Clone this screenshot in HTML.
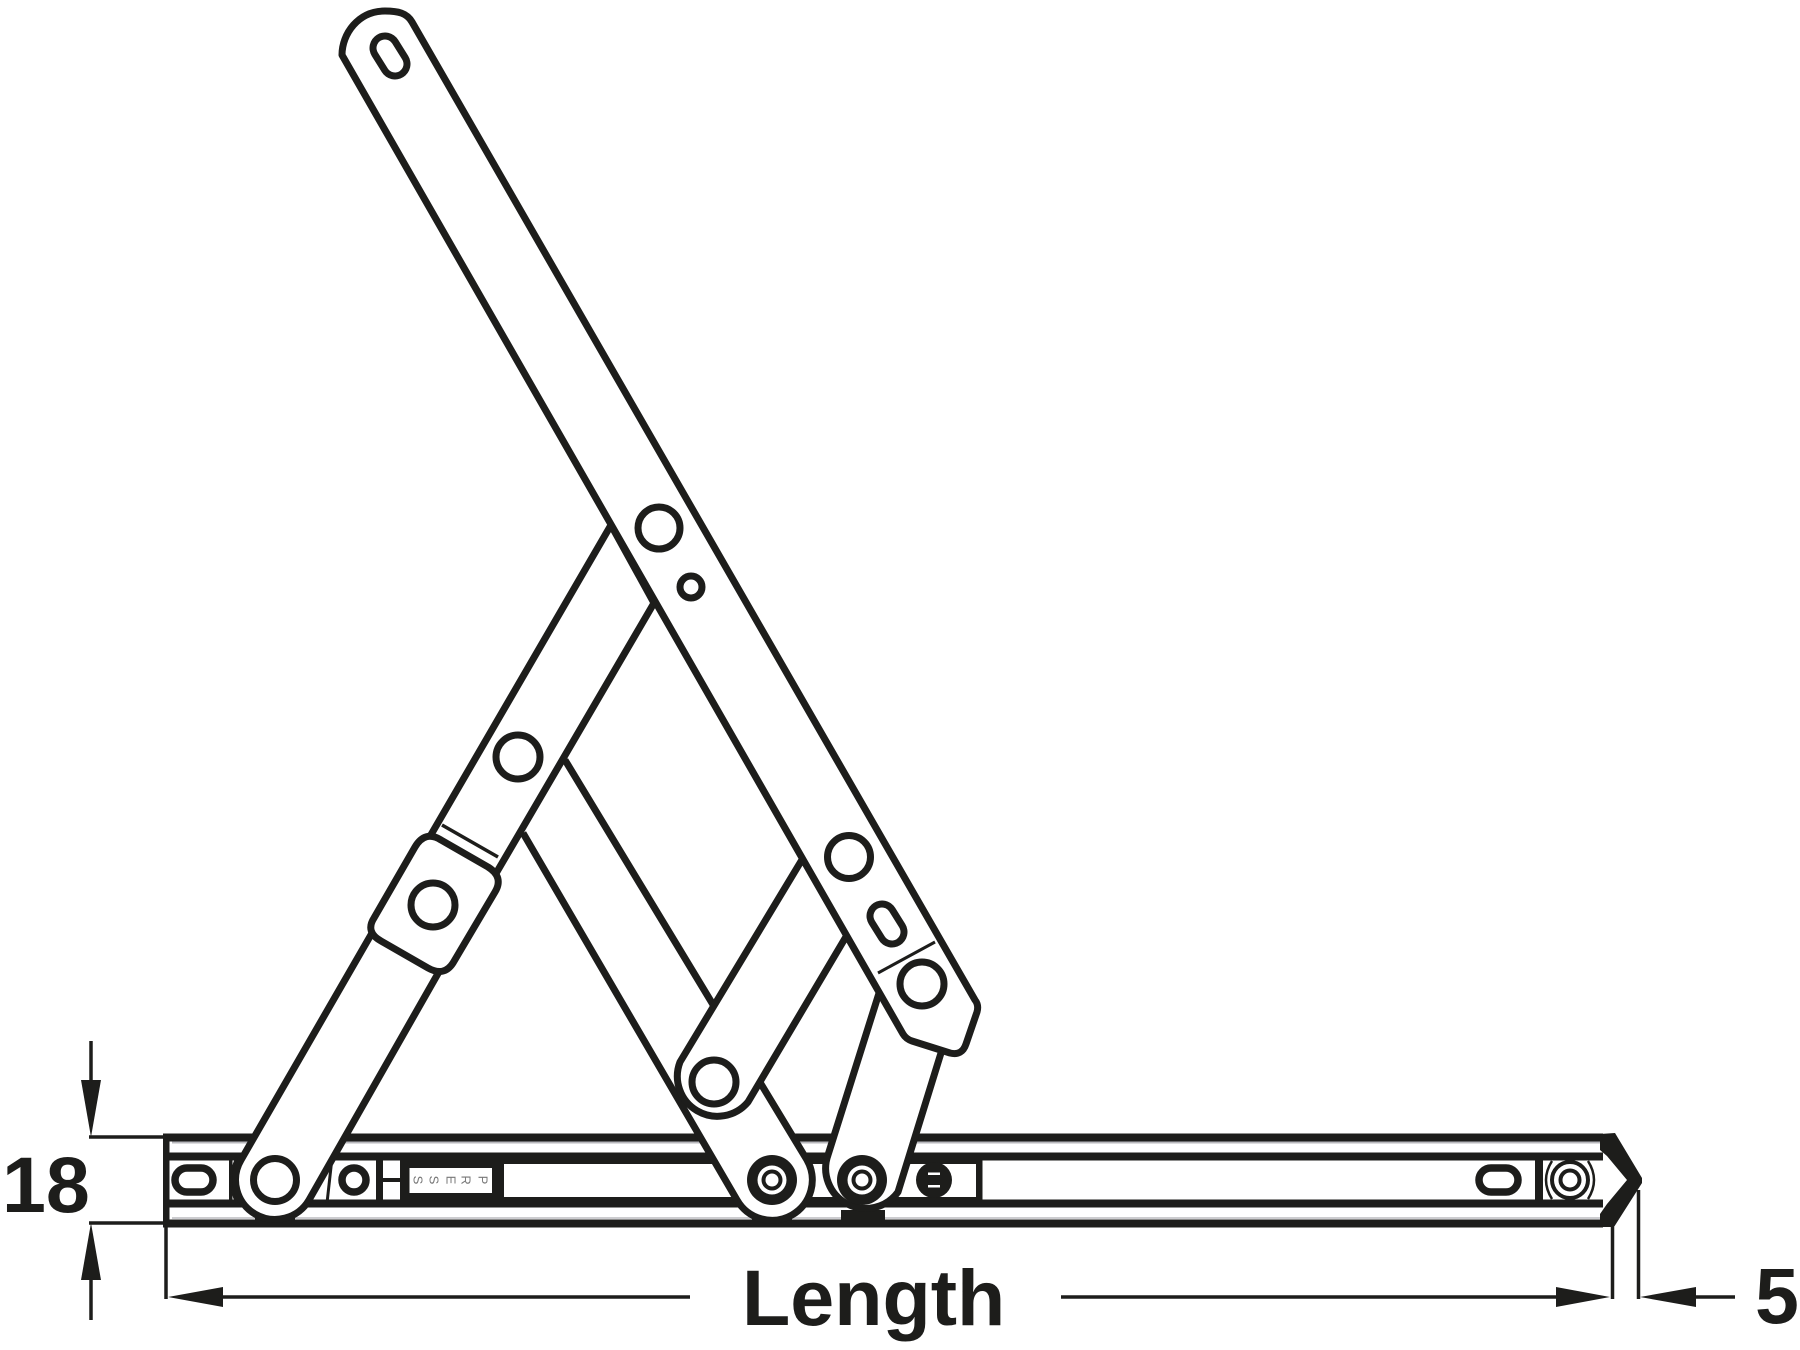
<!DOCTYPE html>
<html><head><meta charset="utf-8"><style>
html,body{margin:0;padding:0;background:#fff}
svg{display:block}
text{font-family:"Liberation Sans",sans-serif;font-weight:bold;fill:#1d1d1b}
</style></head><body>
<svg xmlns="http://www.w3.org/2000/svg" width="1800" height="1350" viewBox="0 0 1800 1350">
<rect width="1800" height="1350" fill="#fff"/>
<g fill="#1d1d1b" stroke="none">
<!-- rail -->
<rect x="172" y="1141.500" width="1430" height="2" fill="#b8b8bc"/>
<rect x="172" y="1217" width="1430" height="2" fill="#cccccf"/>
<rect x="163" y="1133.500" width="1440" height="8"/>
<rect x="163" y="1152.500" width="1440" height="8"/>
<rect x="163" y="1199.500" width="1440" height="8"/>
<rect x="163" y="1219.500" width="1440" height="8"/>
<rect x="163" y="1133.500" width="6.500" height="94"/>
<rect x="400" y="1153" width="104" height="54"/>
<rect x="504" y="1153" width="475" height="11"/>
<rect x="504" y="1197" width="475" height="10"/>
<rect x="229" y="1160" width="3.500" height="40"/>
<rect x="376" y="1153" width="7" height="54"/>
<rect x="382" y="1178" width="18" height="4"/>
<rect x="976" y="1153" width="6.500" height="54"/>
<rect x="1535" y="1153" width="8" height="54"/>
</g>
<rect x="409.500" y="1168" width="82.500" height="25" fill="#fff"/>
<g font-size="13">
<text transform="translate(417,1180) rotate(90)" text-anchor="middle" dominant-baseline="middle" style="font-weight:normal;fill:#777">S</text>
<text transform="translate(433,1180) rotate(90)" text-anchor="middle" dominant-baseline="middle" style="font-weight:normal;fill:#777">S</text>
<text transform="translate(450,1180) rotate(90)" text-anchor="middle" dominant-baseline="middle" style="font-weight:normal;fill:#777">E</text>
<text transform="translate(465,1180) rotate(90)" text-anchor="middle" dominant-baseline="middle" style="font-weight:normal;fill:#777">R</text>
<text transform="translate(482,1180) rotate(90)" text-anchor="middle" dominant-baseline="middle" style="font-weight:normal;fill:#777">P</text>
</g>
<g fill="none" stroke="#1d1d1b" stroke-width="7" stroke-linejoin="round">
<!-- rail details -->
<rect x="175" y="1168" width="38" height="24" rx="12" stroke-width="7.500"/>
<circle cx="354" cy="1180" r="12" stroke-width="7.500"/>
<path d="M237,1158 Q227,1180 237,1203" stroke-width="3.500"/>
<path d="M332,1158 L327,1203" stroke-width="3"/>
<rect x="1479" y="1168" width="39" height="24" rx="12" stroke-width="7.500"/>
<path d="M1552,1161 Q1540,1180 1552,1199" stroke-width="2.500"/>
<path d="M1588,1161 Q1600,1180 1588,1199" stroke-width="2.500"/>
<circle cx="1570" cy="1180" r="18" stroke-width="4"/>
<circle cx="1570" cy="1180" r="9.500" stroke-width="4"/>
</g>
<polygon fill="#1d1d1b" points="1600,1134 1615,1133 1642,1178 1642,1183 1614,1227 1600,1227 1600,1214 1607,1204 1627,1180 1607,1156 1600,1150"/>
<circle cx="934" cy="1180" r="18" fill="#1d1d1b"/>
<rect x="928" y="1172.500" width="12" height="2.500" fill="#fff"/>
<rect x="928" y="1185" width="12" height="2.500" fill="#fff"/>
<rect x="841" y="1210" width="44" height="12" fill="#1d1d1b"/>
<rect x="255" y="1214" width="40" height="8" fill="#1d1d1b"/>
<rect x="752" y="1214" width="40" height="8" fill="#1d1d1b"/>
<g fill="#fff" stroke="#1d1d1b" stroke-width="7" stroke-linejoin="round">
<!-- middle link -->
<path d="M523,833 L737,1200 A40,40 0 0 0 807,1160 L565,760 Z" stroke="none"/>
<path d="M523,833 L737,1200 A40,40 0 0 0 807,1160 L565,760" fill="none"/>
<!-- left arm upper/lower -->
<path d="M611,525 L432,833 L372,933 L241,1160 A39,39 0 0 0 309,1200 L440,970 L498,870 L654,603 Z"/>
<path d="M442,825 L498,857" stroke-width="3.500" fill="none"/>
<path d="M374,918 L415,847 Q425,830 441,840 L488,867 Q504,877 495,892 L453,963 Q444,977 428,968 L381,941 Q365,932 374,918 Z"/>
<!-- short arm -->
<path d="M803,858 L680,1062 A40,40 0 0 0 748,1102 L847,935"/>
<!-- right arm -->
<path d="M880,990 L828,1155 A40,40 0 0 0 898,1192 L941,1053"/>
<!-- long arm -->
<path d="M342,55 C342,34 358,11 385,11 C398,11 407,13 412,22 L975,1000 Q979,1005 977,1012 L966,1044 Q962,1056 950,1053 L912,1041 Q906,1039 903,1034 Z"/>
<path d="M878,973 L935,942" stroke-width="3" fill="none"/>
<!-- holes -->
<g fill="#fff">
<path d="M385,48 L395,64" fill="none" stroke="#1d1d1b" stroke-width="31" stroke-linecap="round"/>
<path d="M385,48 L395,64" fill="none" stroke="#fff" stroke-width="17" stroke-linecap="round"/>
<circle cx="659" cy="528" r="21"/>
<circle cx="691" cy="587" r="11"/>
<circle cx="849" cy="857" r="21.500"/>
<path d="M882,916 L892,932" fill="none" stroke="#1d1d1b" stroke-width="31" stroke-linecap="round"/>
<path d="M882,916 L892,932" fill="none" stroke="#fff" stroke-width="17" stroke-linecap="round"/>
<circle cx="922" cy="984" r="22"/>
<circle cx="518" cy="757" r="22"/>
<circle cx="433" cy="905" r="22"/>
<circle cx="275" cy="1180" r="21.500"/>
<circle cx="714" cy="1082" r="22"/>
</g>
</g>
<!-- roller studs -->
<g>
<circle cx="772" cy="1180" r="25" fill="#1d1d1b"/><circle cx="772" cy="1180" r="14.500" fill="#fff"/><circle cx="772" cy="1180" r="10.500" fill="#1d1d1b"/><circle cx="772" cy="1180" r="6.500" fill="#fff"/>
<circle cx="862" cy="1180" r="25" fill="#1d1d1b"/><circle cx="862" cy="1180" r="14.500" fill="#fff"/><circle cx="862" cy="1180" r="10.500" fill="#1d1d1b"/><circle cx="862" cy="1180" r="6.500" fill="#fff"/>
</g>
<!-- dimensions -->
<g stroke="#1d1d1b" stroke-width="3.500" fill="none">
<path d="M91,1041 V1090"/>
<path d="M91,1270 V1320"/>
<path d="M89,1137 H166"/>
<path d="M89,1223 H166"/>
<path d="M166,1227 V1299"/>
<path d="M220,1297 H690"/>
<path d="M1061,1297 H1560"/>
<path d="M1612.500,1227 V1299"/>
<path d="M1638.500,1190 V1299"/>
<path d="M1690,1297 H1735"/>
</g>
<g fill="#1d1d1b">
<polygon points="91,1137 81,1080 101,1080"/>
<polygon points="91,1223 81,1280 101,1280"/>
<polygon points="168,1297 223,1287 223,1307"/>
<polygon points="1610,1297 1556,1287 1556,1307"/>
<polygon points="1640,1297 1696,1287 1696,1307"/>
</g>
<text x="2" y="1212" font-size="79">18</text>
<text x="742" y="1325" font-size="79">Length</text>
<text x="1755" y="1323" font-size="79">5</text>
</svg>
</body></html>
